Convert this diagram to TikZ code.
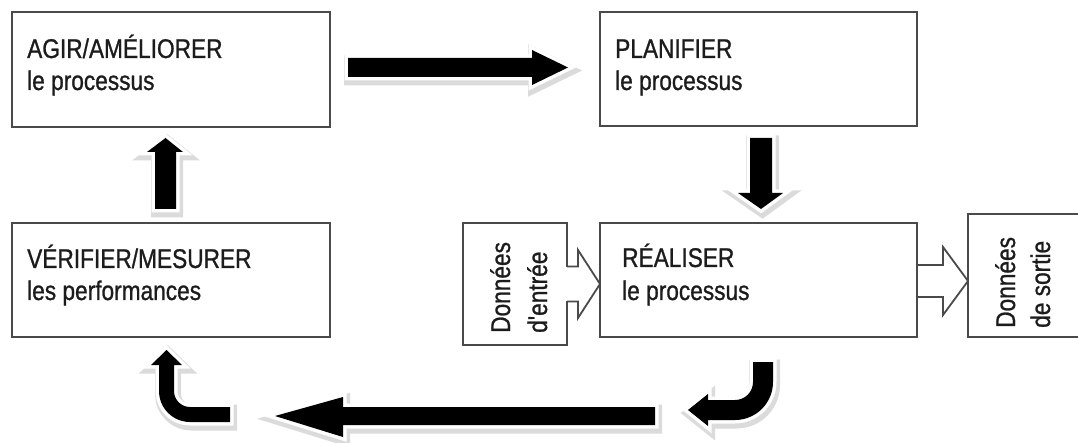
\documentclass[tikz,border=0pt]{standalone}
\usepackage{fontspec}
\newfontfamily\condsans{Liberation Sans}[FakeStretch=0.84,FakeBold=0.9]
\usetikzlibrary{calc}
\definecolor{edge}{HTML}{4A4A4A}
\definecolor{ink}{HTML}{1C1C1C}
\begin{document}
\begin{tikzpicture}[x=1pt,y=-1pt,
  box/.style={draw=edge, line width=2.2pt, fill=white, rectangle, outer sep=0pt, inner sep=0pt, anchor=north west},
  txt/.style={anchor=base west, inner sep=0pt, text=ink, font=\condsans\fontsize{27}{32}\selectfont},
  vtxt/.style={txt, rotate=90},
  fat/.style={fill=black, line join=miter,
     preaction={fill=black!40, draw=black!40, line width=11pt, opacity=0.35,
                transform canvas={shift={(1.5pt,-3pt)}}},
     preaction={fill=white, draw=white, line width=7pt}},
  hollow/.style={draw=edge, line width=1.8pt, line join=miter}]

\useasboundingbox (0,0) rectangle (1078,443);
\fill[white] (0,0) rectangle (1078,443);
\clip (0,0) rectangle (1078,443);

% the four stages of the cycle
\node[box, minimum width=318pt, minimum height=115pt] (agir)   at (12,12)  {};
\node[box, minimum width=317pt, minimum height=114pt] (planif) at (600,12) {};
\node[box, minimum width=318pt, minimum height=114pt] (verif)  at (12,223) {};
\node[box, minimum width=317pt, minimum height=114pt] (real)   at (600,223) {};

% input and output data
\node[box, minimum width=104pt, minimum height=122pt] (entree) at (463,223) {};
\node[box, minimum width=140pt, minimum height=123pt] (sortie) at (968,214) {};

% labels
\node[txt] (agir1)   at ($(agir.north west)+(15,46)$)   {AGIR/AMÉLIORER};
\node[txt] (agir2)   at ($(agir.north west)+(15,78)$)   {le processus};
\node[txt] (planif1) at ($(planif.north west)+(15,46)$) {PLANIFIER};
\node[txt] (planif2) at ($(planif.north west)+(15,78)$) {le processus};
\node[txt] (verif1)  at ($(verif.north west)+(15,45)$)  {VÉRIFIER/MESURER};
\node[txt] (verif2)  at ($(verif.north west)+(15,77)$)  {les performances};
\node[txt] (real1)   at ($(real.north west)+(22,44)$)   {RÉALISER};
\node[txt] (real2)   at ($(real.north west)+(22,77)$)   {le processus};

\node[vtxt] (ent1) at ($(entree.south west)+(47,-12)$) {Données};
\node[vtxt] (ent2) at ($(entree.south west)+(84,-12)$) {d'entrée};
\node[vtxt] (sor1) at ($(sortie.south west)+(47,-9)$)  {Données};
\node[vtxt] (sor2) at ($(sortie.south west)+(82,-9)$)  {de sortie};

% hollow arrow: input data -> process
\fill[white] ($(entree.east)+(-2,-16.5)$) rectangle ($(entree.east)+(2,17)$);
\begin{scope}[shift={(entree.east)}]
  \draw[hollow] (0,-17.5) -- (11,-17.5) -- (11,-34) -- (33,0) -- (11,34) -- (11,17.5) -- (0,17.5);
\end{scope}

% hollow arrow: process -> output data
\coordinate (outA) at ($(real.east)+(0,1)$);
\begin{scope}[shift={(outA)}]
  \draw[hollow] (0,-16) -- (26,-16) -- (26,-34) -- (51,0) -- (26,34) -- (26,16) -- (0,16);
\end{scope}

% AGIR -> PLANIFIER
\coordinate (a1) at ($(agir.north east)+(18,55.5)$);
\begin{scope}[shift={(a1)}]
  \path[fat] (0,-9.5) -- (184,-9.5) -- (184,-17.5) -- (220,0) -- (184,17.5) -- (184,9.5) -- (0,9.5) -- cycle;
\end{scope}

% PLANIFIER -> REALISER
\coordinate (a2) at ($(planif.south west)+(161,12)$);
\begin{scope}[shift={(a2)}]
  \path[fat] (-11,0) -- (11,0) -- (11,55) -- (22,55) -- (0,71) -- (-23,55) -- (-11,55) -- cycle;
\end{scope}

% VERIFIER -> AGIR
\coordinate (a3) at ($(verif.north west)+(153.5,-14)$);
\begin{scope}[shift={(a3)}]
  \path[fat] (-10.5,0) -- (10.5,0) -- (10.5,-57) -- (17.5,-57) -- (0,-71) -- (-18.5,-57) -- (-10.5,-57) -- cycle;
\end{scope}

% REALISER -> bend to the left
\coordinate (a4) at ($(real.south west)+(163,25)$);
\begin{scope}[shift={(a4)}]
  \path[fat] (-10,0) -- (10,0) -- (10,20)
     .. controls (10,41) and (-7,58) .. (-28,58)
     -- (-55,58) -- (-55,64) -- (-75,48) -- (-55,32) -- (-55,38) -- (-28,38)
     .. controls (-18,38) and (-10,30) .. (-10,20) -- cycle;
\end{scope}

% long return arrow along the bottom
\coordinate (a5) at (655,416);
\begin{scope}[shift={(a5)}]
  \path[fat] (0,-9) -- (-312,-9) -- (-312,-19) -- (-380,0) -- (-312,21) -- (-312,9) -- (0,9) -- cycle;
\end{scope}

% bend up into VERIFIER
\coordinate (a6) at ($(verif.south west)+(154.5,13)$);
\begin{scope}[shift={(a6)}]
  \path[fat] (63.5,57) -- (23.5,57) .. controls (14.7,57) and (7.5,49.8) .. (7.5,41)
     -- (7.5,15) -- (15.5,15) -- (0,0) -- (-15.5,15) -- (-7.5,15) -- (-7.5,41)
     .. controls (-7.5,58.1) and (6.4,72) .. (23.5,72) -- (63.5,72) -- cycle;
\end{scope}
\end{tikzpicture}
\end{document}
